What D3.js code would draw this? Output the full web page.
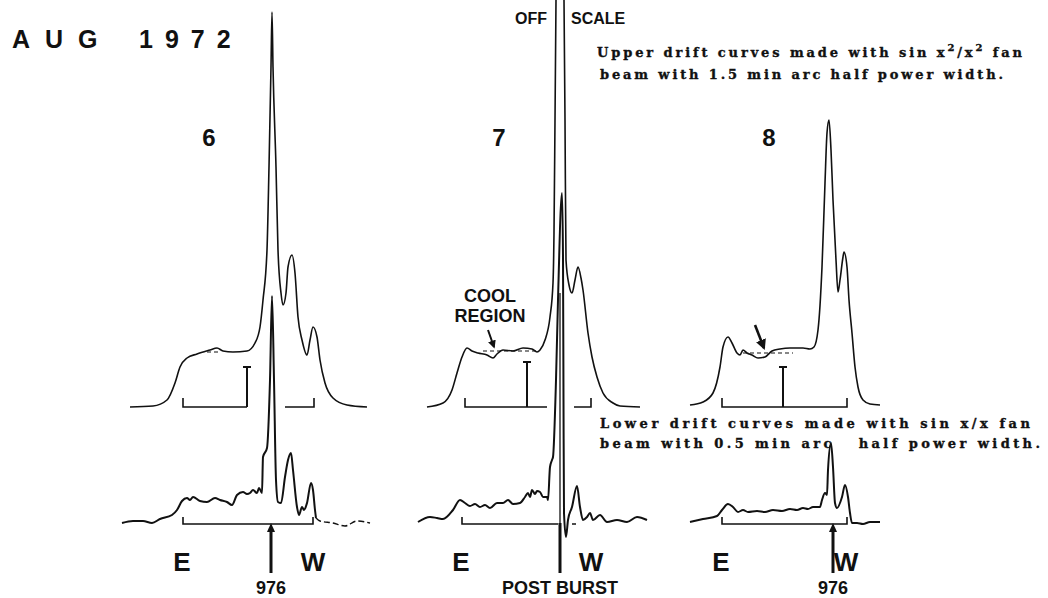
<!DOCTYPE html>
<html>
<head>
<meta charset="utf-8">
<script src="https://cdn.jsdelivr.net/npm/d3@7"></script>
<style>
  html, body { margin: 0; padding: 0; background: #fff; }
  svg { display: block; }
</style>
</head>
<body>
<svg id="chart" width="1048" height="598"></svg>
<script>
// Drift curves across the disk, Aug 1972.
// Each point: [position east→west (arc units from panel edge), intensity].
// Upper curves: sin x²/x² fan beam, 1.5' half-power width.
const upper6 = [[10,0],[33,1],[47,7],[55,24],[60,40],[67,49],[77,53],[90,57],[97,59],[103,56],[113,55],[127,56],[135,64],[140,80],[143,107],[147,157],[149,240],[151,340],[152,395],[153,340],[156,240],[158,157],[161,114],[163,102],[166,114],[168,140],[172,152],[175,134],[178,90],[182,67],[187,52],[190,67],[193,80],[197,70],[200,47],[205,24],[213,9],[227,2],[247,0]];
// Day 7 goes off scale at the burst: null marks the gap.
const upper7 = [[17,0],[33,4],[42,17],[47,34],[52,50],[57,59],[62,56],[68,54],[77,52],[83,49],[87,53],[93,57],[103,56],[113,59],[122,58],[127,55],[130,57],[135,67],[140,90],[143,124],[144,174],[145,287],[146,407],[150,null],[154,407],[155,287],[156,147],[159,122],[162,114],[165,127],[168,140],[171,129],[173,117],[178,74],[182,50],[187,30],[193,14],[203,4],[210,1],[230,0]];
const upper8 = [[10,2],[23,5],[33,14],[40,40],[43,60],[48,70],[52,64],[57,54],[60,52],[63,57],[67,54],[72,52],[78,49],[85,50],[92,56],[100,58],[110,59],[123,59],[130,58],[134,60],[138,77],[142,140],[145,224],[147,274],[149,287],[151,257],[153,207],[156,147],[158,115],[160,127],[163,150],[164,155],[167,140],[169,107],[172,74],[175,40],[178,20],[183,7],[190,3],[200,2]];

// Lower curves: sin x/x fan beam, 0.5' half-power width.
const lower6 = [[2,0],[13,2],[23,2],[32,0],[40,4],[52,8],[57,13],[62,22],[67,25],[70,23],[73,26],[80,22],[87,21],[95,25],[100,23],[107,21],[112,18],[117,28],[123,31],[127,29],[130,30],[133,33],[137,30],[139,35],[142,30],[143,66],[147,75],[150,143],[152,227],[154,143],[156,43],[158,21],[161,20],[165,46],[168,63],[171,70],[173,53],[177,16],[179,8],[182,16],[184,13],[187,20],[191,40],[193,33],[195,13],[196,5]];
const lower6Tail = [[196,5],[200,2],[213,0],[225,-3],[237,2],[250,0]];
const lower7 = [[8,1],[20,6],[27,5],[33,4],[43,13],[50,23],[55,20],[60,17],[65,19],[70,16],[75,18],[80,15],[87,20],[93,20],[98,23],[103,19],[110,20],[115,26],[118,30],[120,26],[122,33],[125,29],[127,32],[130,31],[133,26],[137,26],[138,23],[140,56],[142,63],[143,66],[146,143],[148,223],[152,330],[153,266],[153.5,123],[154,10],[156,-14],[158,3],[162,16],[167,37],[170,16],[173,3],[177,6],[180,10],[183,3],[190,8],[197,1],[207,3],[217,1],[227,6],[237,3]];
const lower8 = [[10,1],[23,4],[37,7],[42,13],[48,19],[53,16],[58,11],[63,13],[68,11],[77,12],[85,11],[93,13],[102,12],[110,14],[117,13],[123,15],[128,14],[133,16],[140,16],[142,23],[145,30],[147,28],[148,53],[151,80],[153,56],[155,20],[157,15],[162,26],[165,38],[168,26],[170,10],[172,0],[177,0],[183,-1],[190,1],[200,1]];

// Disk limbs (E, W), scale bars and the cool-region level for each day.
const days = ["6", "7", "8"];
const limbE = [63, 55, 42];
const limbW = [194, 181, 167];
const upperGap = [[127, 165], [137, 164], null];
const scaleBarPos = [127, 117, 103];
const scaleBarHeight = [40, 45, 40];
const lowerLimbE = [63, 52, 42];
const lowerLimbW = [193, 148, 167];
const coolLevel = [55, 56, 54];
const coolSpan = [[87, 99], [73, 127], [63, 113]];
const markerPos = [151, 150, 153];
const markerLabels = ["976", "POST BURST", "976"];
const coolArrows = [null, [[78, 77], [84, 60]], [[75, 82], [84, 59]]];

const upperCurves = [upper6, upper7, upper8];
const lowerCurves = [lower6, lower7, lower8];

const titleWord = "AUG";
const titleYear = "1972";
const noteUpper = ["Upper drift curves made with sin x", "2", "/x", "2", " fan"];
const noteUpper2 = "beam with 1.5 min arc half power width.";
const noteLower = ["Lower drift curves made with sin x/x fan", "beam with 0.5 min arc   half power width."];

// ---- layout ----
const panelLeft = [120, 410, 680];
const upperBase = 407, lowerBase = 523, topEdge = 0;
const ink = "#111";
const sans = "'Liberation Sans', Arial, sans-serif";
const typewriter = "'DejaVu Serif', 'Liberation Serif', serif";

const svg = d3.select("#chart");
svg.append("rect").attr("width", 1048).attr("height", 598).attr("fill", "#fff");

const yUpper = d3.scaleLinear().domain([0, 407]).range([upperBase, topEdge]);
const yLower = d3.scaleLinear().domain([0, 407]).range([lowerBase, lowerBase - 407]);

const defs = svg.append("defs");
defs.append("marker").attr("id", "head").attr("viewBox", "0 0 10 10")
  .attr("refX", 8).attr("refY", 5).attr("markerWidth", 4).attr("markerHeight", 4)
  .attr("orient", "auto")
  .append("path").attr("d", "M0,0 L10,5 L0,10 z").attr("fill", ink);

days.forEach((day, i) => {
  const x = d3.scaleLinear().domain([0, 250]).range([panelLeft[i], panelLeft[i] + 250]);
  const g = svg.append("g");

  const lineU = d3.line().defined(d => d[1] !== null)
    .x(d => x(d[0])).y(d => yUpper(d[1])).curve(d3.curveMonotoneX);
  const lineL = d3.line().x(d => x(d[0])).y(d => yLower(d[1])).curve(d3.curveMonotoneX);

  // upper bracket (disk limbs) with the scale bar
  const b = [];
  const gap = upperGap[i];
  const tick = 9;
  if (gap) {
    b.push(`M${x(limbE[i])},${yUpper(0) - tick}V${yUpper(0)}H${x(gap[0])}`);
    b.push(`M${x(gap[1])},${yUpper(0)}H${x(limbW[i])}V${yUpper(0) - tick}`);
  } else {
    b.push(`M${x(limbE[i])},${yUpper(0) - tick}V${yUpper(0)}H${x(limbW[i])}V${yUpper(0) - tick}`);
  }
  g.append("path").attr("d", b.join("")).attr("fill", "none").attr("stroke", ink).attr("stroke-width", 1.6);
  const sb = x(scaleBarPos[i]);
  g.append("path")
    .attr("d", `M${sb},${yUpper(0)}V${yUpper(scaleBarHeight[i])}M${sb - 4},${yUpper(scaleBarHeight[i])}H${sb + 4}`)
    .attr("fill", "none").attr("stroke", ink).attr("stroke-width", 2);

  // cool-region reference level
  g.append("line")
    .attr("x1", x(coolSpan[i][0])).attr("x2", x(coolSpan[i][1]))
    .attr("y1", yUpper(coolLevel[i])).attr("y2", yUpper(coolLevel[i]))
    .attr("stroke", ink).attr("stroke-width", 1.2).attr("stroke-dasharray", "4,3");

  // lower bracket
  const lb = yLower(0) + 1;
  let ld = `M${x(lowerLimbE[i])},${lb - 7}V${lb}H${x(lowerLimbW[i])}`;
  if (i !== 1) ld += `V${lb - 7}`;
  g.append("path").attr("d", ld).attr("fill", "none").attr("stroke", ink).attr("stroke-width", 1.6);
  if (i === 1) {
    g.append("line").attr("x1", x(162)).attr("x2", x(166)).attr("y1", lb).attr("y2", lb)
      .attr("stroke", ink).attr("stroke-width", 1.5);
  }

  // curves
  g.append("path").datum(upperCurves[i]).attr("d", lineU)
    .attr("fill", "none").attr("stroke", ink).attr("stroke-width", 1.6).attr("stroke-linejoin", "round");
  g.append("path").datum(lowerCurves[i]).attr("d", lineL)
    .attr("fill", "none").attr("stroke", ink).attr("stroke-width", 2).attr("stroke-linejoin", "round");
  if (i === 0) {
    g.append("path").datum(lower6Tail).attr("d", lineL)
      .attr("fill", "none").attr("stroke", ink).attr("stroke-width", 1.4).attr("stroke-dasharray", "6,3");
  }

  // marker arrow under the lower bracket
  const mx = x(markerPos[i]);
  if (i === 1) {
    g.append("line").attr("x1", mx).attr("x2", mx).attr("y1", yLower(230)).attr("y2", yLower(0))
      .attr("stroke", ink).attr("stroke-width", 1.3);
    g.append("line").attr("x1", mx).attr("x2", mx).attr("y1", yLower(0)).attr("y2", yLower(-50))
      .attr("stroke", ink).attr("stroke-width", 3);
  } else {
    g.append("line").attr("x1", mx).attr("x2", mx).attr("y1", yLower(-50)).attr("y2", yLower(-6))
      .attr("stroke", ink).attr("stroke-width", 3);
    g.append("path")
      .attr("d", `M${mx},${yLower(0)}L${mx - 4},${yLower(-9)}L${mx + 4},${yLower(-9)}Z`)
      .attr("fill", ink);
  }

  // cool-region pointer
  if (coolArrows[i]) {
    const a = coolArrows[i];
    g.append("line")
      .attr("x1", x(a[0][0])).attr("y1", yUpper(a[0][1]))
      .attr("x2", x(a[1][0])).attr("y2", yUpper(a[1][1]))
      .attr("stroke", ink).attr("stroke-width", i === 2 ? 2.6 : 2)
      .attr("marker-end", "url(#head)");
  }

  // labels
  g.append("text").text(day)
    .attr("x", x(89)).attr("y", 146).attr("text-anchor", "middle")
    .attr("font-family", sans).attr("font-weight", "bold").attr("font-size", 24).attr("fill", ink);
  g.append("text").text("E")
    .attr("x", x(lowerLimbE[i] - 1)).attr("y", 571).attr("text-anchor", "middle")
    .attr("font-family", sans).attr("font-weight", "bold").attr("font-size", 26).attr("fill", ink);
  g.append("text").text("W")
    .attr("x", x(limbW[i]) - (i === 1 ? 0 : 1)).attr("y", 571).attr("text-anchor", "middle")
    .attr("font-family", sans).attr("font-weight", "bold").attr("font-size", 26).attr("fill", ink);
  g.append("text").text(markerLabels[i])
    .attr("x", i === 1 ? x(markerPos[i]) : mx).attr("y", 594).attr("text-anchor", "middle")
    .attr("font-family", sans).attr("font-weight", "bold").attr("font-size", 18).attr("fill", ink);
});

// heading
svg.append("text").text(titleWord)
  .attr("x", 12).attr("y", 48).attr("font-family", sans).attr("font-weight", "bold")
  .attr("font-size", 25).attr("letter-spacing", 15).attr("fill", ink);
svg.append("text").text(titleYear)
  .attr("x", 139).attr("y", 48).attr("font-family", sans).attr("font-weight", "bold")
  .attr("font-size", 25).attr("letter-spacing", 12).attr("fill", ink);

// off-scale note around the burst
svg.append("text").text("OFF").attr("x", 515).attr("y", 24)
  .attr("font-family", sans).attr("font-weight", "bold").attr("font-size", 16).attr("fill", ink);
svg.append("text").text("SCALE").attr("x", 571).attr("y", 24)
  .attr("font-family", sans).attr("font-weight", "bold").attr("font-size", 16).attr("fill", ink);

// cool region label
["COOL", "REGION"].forEach((t, k) => {
  svg.append("text").text(t).attr("x", 490).attr("y", 302 + k * 20).attr("text-anchor", "middle")
    .attr("font-family", sans).attr("font-weight", "bold").attr("font-size", 18).attr("fill", ink);
});

// beam notes
const noteStyle = sel => sel
  .attr("font-family", typewriter).attr("font-weight", "bold").attr("font-size", 13)
  .attr("fill", ink).attr("stroke", ink).attr("stroke-width", 0.35)
  .attr("lengthAdjust", "spacing").style("white-space", "pre");
const up1 = svg.append("text").attr("x", 597).attr("y", 57).attr("textLength", 425).call(noteStyle);
noteUpper.forEach((t, k) => {
  const s = up1.append("tspan").text(t);
  if (t === "2") s.attr("dy", -6).attr("font-size", 10);
  else if (k > 0) s.attr("dy", 6);
});
svg.append("text").text(noteUpper2).attr("x", 600).attr("y", 79)
  .attr("textLength", 403).call(noteStyle);
noteLower.forEach((t, k) => {
  svg.append("text").text(t).attr("x", 600).attr("y", 428 + k * 20)
    .attr("textLength", k === 0 ? 430 : 440).call(noteStyle);
});
</script>
</body>
</html>
